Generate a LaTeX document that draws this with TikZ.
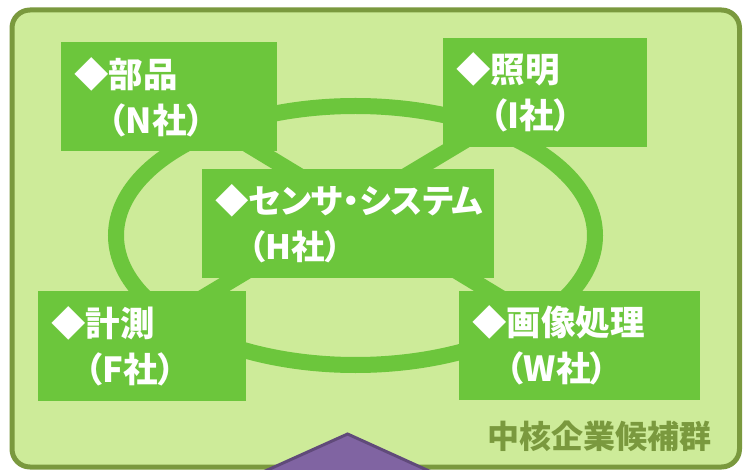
\documentclass[tikz,border=0pt]{standalone}
\usepackage{fontspec}
\usepackage{tikz}
\newfontfamily\jpfont{Noto Sans CJK JP}[RawFeature=+palt]
\definecolor{bggreen}{RGB}{205,235,153}
\definecolor{boxgreen}{RGB}{108,198,60}
\definecolor{rimolive}{RGB}{122,153,62}
\definecolor{trifill}{RGB}{128,100,162}
\definecolor{triline}{RGB}{96,74,122}
\pgfdeclarelayer{bg}
\pgfdeclarelayer{back}
\pgfsetlayers{bg,back,main}

\begin{document}
\begin{tikzpicture}[x=1pt,y=-1pt,
  firm/.style={fill=boxgreen, text=white, align=left, inner xsep=13pt, inner ysep=0pt,
    minimum height=109pt, font=\jpfont\bfseries\fontsize{34.5}{46}\selectfont},
  ring/.style={boxgreen, line width=16pt}]
  \clip (0,0) rectangle (744,470);
  \begin{pgfonlayer}{bg}
    \fill [white] (0,0) rectangle (744,470);
    \draw [rimolive, fill=bggreen, line width=5pt, rounded corners=18pt] (12,10) rectangle (739.5,467);
  \end{pgfonlayer}
  \node [firm, text width=266pt, font=\jpfont\bfseries\fontsize{33.5}{46}\selectfont] at (348,223.5) (n0) {◆センサ・システム\\\hphantom{◆}（H社）};
  \node [firm, text width=190pt] at (169,97) (n1) {◆部品\\\hphantom{◆}（N社）};
  \node [firm, text width=178pt] at (545,92.5) (n2) {◆照明\\\hphantom{◆}（I社）};
  \node [firm, text width=182pt] at (142,346) (n3) {◆計測\\\hphantom{◆}（F社）};
  \node [firm, text width=215pt] at (579.5,345.5) (n4) {◆画像処理\\\hphantom{◆}（W社）};
  \begin{pgfonlayer}{back}
    \draw [ring] (355.5,235.5) ellipse [x radius=239.5pt, y radius=129.5pt];
    \draw [ring] (n1.center) -- (n4.center);
    \draw [ring] (n2.center) -- ([xshift=-20pt]n3.center);
  \end{pgfonlayer}
  \draw [triline, fill=trifill, line width=3pt] (347.6,434) -- (471,490) -- (223,490) -- cycle;
  \node [anchor=east, inner sep=0pt, text=rimolive, font=\jpfont\bfseries\fontsize{32}{32}\selectfont]
    at (712,436.5) (lbl) {中核企業候補群};
\end{tikzpicture}
\end{document}
